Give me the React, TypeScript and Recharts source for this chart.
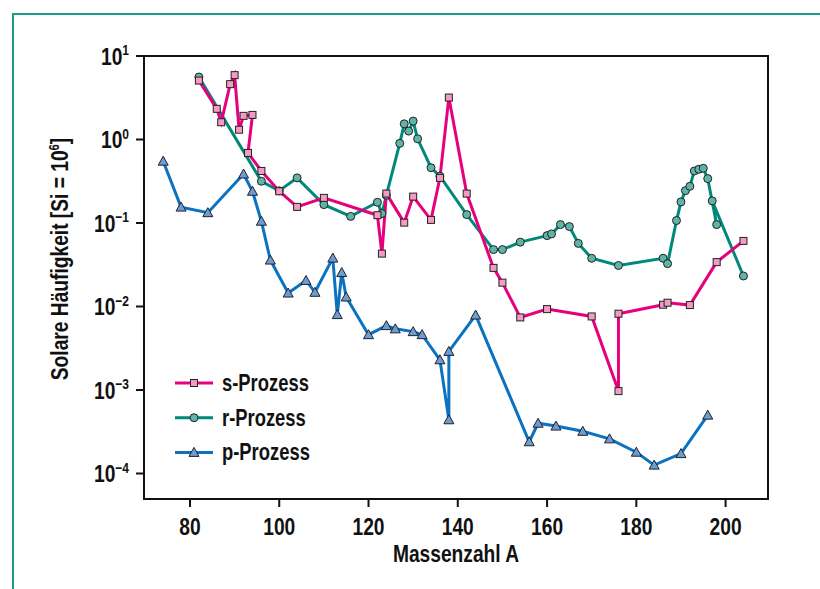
import React from "react";
import { LineChart, Line, XAxis, YAxis, Legend, ReferenceArea } from "recharts";

// Mass numbers and solar abundances (Si = 10^6) for each process
const sMass = [82, 86, 87, 89, 90, 91, 92, 94, 93, 96, 100, 104, 110, 122, 123, 124, 128, 130, 134, 136, 138, 142, 148, 150, 154, 160, 170, 176, 176, 186, 187, 192, 198, 204];
const sAbundance = [5.08, 2.33, 1.61, 4.6, 5.9, 1.31, 1.92, 1.97, 0.69, 0.42, 0.24, 0.156, 0.2, 0.124, 0.043, 0.225, 0.101, 0.207, 0.109, 0.347, 3.18, 0.225, 0.029, 0.0193, 0.0074, 0.0093, 0.0076, 0.00097, 0.0082, 0.0105, 0.0111, 0.0104, 0.034, 0.061];

const rMass = [82, 96, 100, 104, 110, 116, 122, 123, 124, 127, 128, 129, 130, 131, 134, 136, 142, 148, 150, 154, 160, 161, 163, 165, 167, 170, 176, 186, 187, 189, 190, 191, 192, 193, 194, 195, 196, 198, 197, 204];
const rAbundance = [5.6, 0.316, 0.243, 0.347, 0.166, 0.12, 0.177, 0.13, 0.215, 0.9, 1.54, 1.26, 1.66, 1.02, 0.46, 0.363, 0.126, 0.048, 0.048, 0.059, 0.0706, 0.074, 0.0957, 0.0906, 0.057, 0.0378, 0.031, 0.0378, 0.0326, 0.107, 0.179, 0.244, 0.275, 0.42, 0.44, 0.452, 0.34, 0.0957, 0.184, 0.0232];

const pMass = [74, 78, 84, 92, 94, 96, 98, 102, 106, 108, 112, 113, 114, 115, 120, 124, 126, 130, 132, 136, 138, 138, 144, 156, 158, 162, 168, 174, 180, 184, 190, 196];
const pAbundance = [0.55, 0.155, 0.133, 0.386, 0.24, 0.105, 0.036, 0.0145, 0.0205, 0.0148, 0.038, 0.008, 0.0255, 0.013, 0.0046, 0.0059, 0.0054, 0.005, 0.0046, 0.0023, 0.00044, 0.0029, 0.0079, 0.00024, 0.0004, 0.00037, 0.00032, 0.00026, 0.00018, 0.000126, 0.000173, 0.0005];

const xTicks = [80, 100, 120, 140, 160, 180, 200];
const yTicks = [1e-4, 1e-3, 1e-2, 1e-1, 1, 10];
const yTickExponents = ["−4", "−3", "−2", "−1", "0", "1"];
const xDomain = [69.7, 209.5];
const yDomain = [4.95e-5, 10];

// Liberation Sans squeezed horizontally stands in for the condensed bold face
const FONT = "'Liberation Sans', Arial, sans-serif";
const SQUEEZE = 0.8;
const PINK = "#e6007e";
const PINK_FILL = "#f39bc2";
const TEAL = "#00897b";
const TEAL_FILL = "#5eb5a7";
const BLUE = "#0a72c0";
const BLUE_FILL = "#6c9bd6";
const FRAME = "#1e9b8e";

const sData = sMass.map((a, i) => ({ a, v: sAbundance[i] }));
const rData = rMass.map((a, i) => ({ a, v: rAbundance[i] }));
const pData = pMass.map((a, i) => ({ a, v: pAbundance[i] }));

function Square({ cx, cy }: { cx: number; cy: number }) {
  return <rect x={cx - 3.5} y={cy - 3.5} width={7} height={7} fill={PINK_FILL} stroke="#222" strokeWidth={1} />;
}
function Circle({ cx, cy }: { cx: number; cy: number }) {
  return <circle cx={cx} cy={cy} r={4} fill={TEAL_FILL} stroke="#222" strokeWidth={1} />;
}
function Triangle({ cx, cy }: { cx: number; cy: number }) {
  return <polygon points={`${cx},${cy - 5} ${cx - 5},${cy + 4} ${cx + 5},${cy + 4}`} fill={BLUE_FILL} stroke="#222" strokeWidth={1} />;
}

const squareDot = (props: any) => <Square key={`s-${props.index}`} cx={props.cx} cy={props.cy} />;
const circleDot = (props: any) => <Circle key={`r-${props.index}`} cx={props.cx} cy={props.cy} />;
const triangleDot = (props: any) => <Triangle key={`p-${props.index}`} cx={props.cx} cy={props.cy} />;

// text drawn at (x, y) but narrowed like a condensed font
function NarrowText(props: { x: number; y: number; size?: number; anchor?: string; rotate?: number; children: React.ReactNode }) {
  const { x, y, size = 24, anchor = "start", rotate = 0, children } = props;
  return (
    <g transform={`translate(${x},${y}) rotate(${rotate}) scale(${SQUEEZE},1)`}>
      <text x={0} y={0} textAnchor={anchor} fontFamily={FONT} fontWeight="bold" fontSize={size} fill="#111">
        {children}
      </text>
    </g>
  );
}

const XTick = (props: any) => {
  const { x, y, payload } = props;
  return (
    <NarrowText x={x} y={y + 28} anchor="middle">
      {payload.value}
    </NarrowText>
  );
};

const YTick = (props: any) => {
  const { x, y, payload } = props;
  const exp = yTickExponents[yTicks.indexOf(payload.value)];
  return (
    <NarrowText x={x - 7} y={y + 9} anchor="end">
      <tspan>10</tspan>
      <tspan dy={-10} fontSize={15}>{exp}</tspan>
    </NarrowText>
  );
};

const XTitle = () => (
  <NarrowText x={456} y={562} anchor="middle">
    Massenzahl A
  </NarrowText>
);

const YTitle = () => (
  <NarrowText x={68} y={259} anchor="middle" rotate={-90}>
    <tspan>Solare Häufigkeit [Si = 10</tspan>
    <tspan dy={-9} fontSize={14}>6</tspan>
    <tspan dy={9}>]</tspan>
  </NarrowText>
);

const legendItems = [
  { name: "s-Prozess", color: PINK, Marker: Square },
  { name: "r-Prozess", color: TEAL, Marker: Circle },
  { name: "p-Prozess", color: BLUE, Marker: Triangle },
];

const LegendBox = () => (
  <svg width={170} height={110} style={{ display: "block" }}>
    {legendItems.map((item, i) => {
      const cy = 17 + i * 34.7;
      return (
        <g key={item.name}>
          <line x1={5} x2={43} y1={cy} y2={cy} stroke={item.color} strokeWidth={3} />
          <item.Marker cx={24} cy={cy} />
          <NarrowText x={52} y={cy + 8} size={23}>
            {item.name}
          </NarrowText>
        </g>
      );
    })}
  </svg>
);

export default function App() {
  return (
    <div style={{ position: "absolute", left: 0, top: 0, width: 820, height: 589, background: "#fff", overflow: "hidden" }}>
      <div style={{ position: "absolute", left: 12, top: 13, width: 808, height: 2, background: FRAME }} />
      <div style={{ position: "absolute", left: 12, top: 13, width: 2, height: 576, background: FRAME }} />
      <LineChart width={820} height={589} margin={{ top: 56, right: 52, bottom: 30, left: 44 }}>
        <XAxis
          dataKey="a"
          type="number"
          domain={xDomain}
          ticks={xTicks}
          allowDataOverflow
          height={60}
          tickSize={8}
          tickMargin={0}
          axisLine={{ stroke: "#111", strokeWidth: 2 }}
          tickLine={{ stroke: "#111", strokeWidth: 2 }}
          tick={XTick}
          label={<XTitle />}
        />
        <YAxis
          dataKey="v"
          scale="log"
          domain={yDomain}
          ticks={yTicks}
          allowDataOverflow
          width={100}
          tickSize={8}
          tickMargin={0}
          axisLine={{ stroke: "#111", strokeWidth: 2 }}
          tickLine={{ stroke: "#111", strokeWidth: 2 }}
          tick={YTick}
          label={<YTitle />}
        />
        <ReferenceArea x1={xDomain[0]} x2={xDomain[1]} y1={yDomain[0]} y2={yDomain[1]} fill="none" stroke="#111" strokeWidth={2} />
        <Legend
          layout="vertical"
          align="center"
          verticalAlign="middle"
          content={() => <LegendBox />}
          wrapperStyle={{ left: 170, top: 366, width: 170, height: 110 }}
        />
        <Line data={pData} dataKey="v" name="p-Prozess" stroke={BLUE} strokeWidth={3} dot={triangleDot} isAnimationActive={false} />
        <Line data={rData} dataKey="v" name="r-Prozess" stroke={TEAL} strokeWidth={3} dot={circleDot} isAnimationActive={false} />
        <Line data={sData} dataKey="v" name="s-Prozess" stroke={PINK} strokeWidth={3} dot={squareDot} isAnimationActive={false} />
      </LineChart>
    </div>
  );
}
